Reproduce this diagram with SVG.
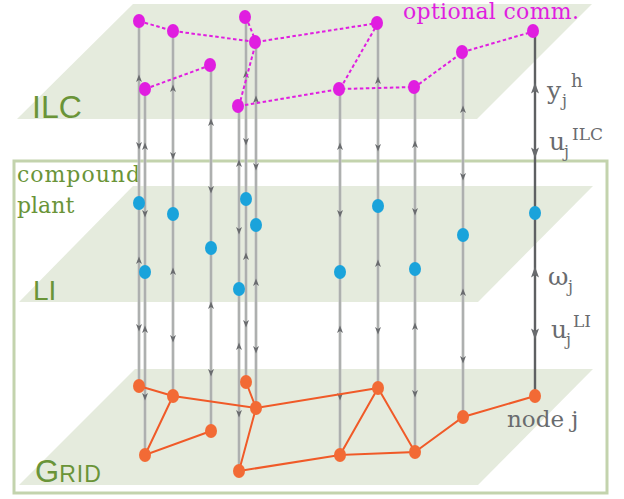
<svg xmlns="http://www.w3.org/2000/svg" xmlns:xlink="http://www.w3.org/1999/xlink" width="624" height="499" viewBox="0 0 624 499">
<style>
.plane{fill:#e5ebdd}
.frame{fill:none;stroke:#c3d3ad;stroke-width:3}
.lbl{fill:#6a9438;font-family:"Liberation Sans",Arial,sans-serif}
.ser{font-family:"DejaVu Serif","Liberation Serif",serif}
.gry{fill:#696b6e}
.vl{fill:none;stroke:#c8cac8;stroke-width:3}
.vd{fill:none;stroke:#939596;stroke-width:1}
.vL{fill:none;stroke:#5e6062;stroke-width:2.4}
.ah{fill:#696b6e}
.mg{fill:none;stroke:#e01ee0;stroke-width:2;stroke-dasharray:3.5 2.5}
.og{fill:none;stroke:#f05a28;stroke-width:2}
.ni{fill:#e01ee0}
.nl{fill:#1aa3db}
.ng{fill:#f26a35}
</style>
<defs>
<path id="up" d="M0,-4.5 L3,3 L0,1 L-3,3 Z"/>
<path id="dn" d="M0,4.5 L3,-3 L0,-1 L-3,-3 Z"/>
<path id="upB" d="M0,-6.5 L4,4.5 L0,2 L-4,4.5 Z"/>
<path id="dnB" d="M0,6.5 L4,-4.5 L0,-2 L-4,-4.5 Z"/>
</defs>

<!-- planes -->
<polygon class="plane" points="133,4 592,4 477,119 17,119"/>
<polygon class="plane" points="133,186 593,186 478,302 19,302"/>
<polygon class="plane" points="135,369 593,369 478,485 19,485"/>
<rect class="frame" x="14" y="161" width="593" height="332"/>

<!-- plane labels -->
<text class="lbl" x="32" y="118" font-size="32">ILC</text>
<text class="lbl" x="33" y="300" font-size="28">LI</text>
<text class="lbl" x="35" y="482" font-size="31">G<tspan font-size="23" letter-spacing="1">RID</tspan></text>
<text class="lbl ser" x="17" y="182" font-size="22" textLength="123" lengthAdjust="spacing">compound</text>
<text class="lbl ser" x="17" y="213" font-size="22">plant</text>
<text class="ser" x="403" y="19" font-size="22" fill="#e01ee0" textLength="176" lengthAdjust="spacing">optional comm.</text>

<g id="connectors">
<path class="vl" d="M139,21V386 M145,89V455 M173,31V396 M211,65V431 M239,106V471 M246,17V382 M256,42V408 M340,89V455 M378,23V388 M415,87V452 M463,52V417"/>
<path class="vd" d="M139,21V386 M145,89V455 M173,31V396 M211,65V431 M239,106V471 M246,17V382 M256,42V408 M340,89V455 M378,23V388 M415,87V452 M463,52V417"/>
<path class="vL" d="M535,31V396"/>
<g class="ah">
<use href="#up" x="139" y="79"/><use href="#dn" x="139" y="145"/><use href="#up" x="139" y="261"/><use href="#dn" x="139" y="327"/>
<use href="#up" x="145" y="147"/><use href="#dn" x="145" y="213"/><use href="#up" x="145" y="330"/><use href="#dn" x="145" y="396"/>
<use href="#up" x="173" y="89"/><use href="#dn" x="173" y="155"/><use href="#up" x="173" y="272"/><use href="#dn" x="173" y="338"/>
<use href="#up" x="211" y="123"/><use href="#dn" x="211" y="189"/><use href="#up" x="211" y="306"/><use href="#dn" x="211" y="372"/>
<use href="#up" x="239" y="164"/><use href="#dn" x="239" y="230"/><use href="#up" x="239" y="347"/><use href="#dn" x="239" y="413"/>
<use href="#up" x="246" y="75"/><use href="#dn" x="246" y="141"/><use href="#up" x="246" y="257"/><use href="#dn" x="246" y="323"/>
<use href="#up" x="256" y="100"/><use href="#dn" x="256" y="166"/><use href="#up" x="256" y="283"/><use href="#dn" x="256" y="349"/>
<use href="#up" x="340" y="147"/><use href="#dn" x="340" y="213"/><use href="#up" x="340" y="330"/><use href="#dn" x="340" y="396"/>
<use href="#up" x="378" y="81"/><use href="#dn" x="378" y="147"/><use href="#up" x="378" y="264"/><use href="#dn" x="378" y="330"/>
<use href="#up" x="415" y="145"/><use href="#dn" x="415" y="211"/><use href="#up" x="415" y="327"/><use href="#dn" x="415" y="393"/>
<use href="#up" x="463" y="110"/><use href="#dn" x="463" y="176"/><use href="#up" x="463" y="293"/><use href="#dn" x="463" y="359"/>
<use href="#upB" x="535" y="89"/><use href="#dnB" x="535" y="152"/><use href="#upB" x="535" y="273"/><use href="#dnB" x="535" y="333"/>
</g>
<path class="mg" d="M139,21L173,31L256,42L378,23 M246,17L256,42L239,106 M145,89L211,65 M239,106L340,89 M378,23L340,89L415,87L463,52L535,31"/>
<path class="og" d="M139,386L173,396L256,408L378,388 M246,382L256,408L239,471L340,455 M173,396L145,455L211,431 M378,388L340,455L415,452L378,388 M415,452L463,417L535,396"/>
</g>

<!-- ILC nodes -->
<g id="ilc-1"><ellipse class="ni" cx="139" cy="21" rx="6" ry="7"/></g>
<g id="ilc-2"><ellipse class="ni" cx="145" cy="89" rx="6" ry="7"/></g>
<g id="ilc-3"><ellipse class="ni" cx="173" cy="31" rx="6" ry="7"/></g>
<g id="ilc-4"><ellipse class="ni" cx="210" cy="65" rx="6" ry="7"/></g>
<g id="ilc-5"><ellipse class="ni" cx="238" cy="106" rx="6" ry="7"/></g>
<g id="ilc-6"><ellipse class="ni" cx="245" cy="17" rx="6" ry="7"/></g>
<g id="ilc-7"><ellipse class="ni" cx="255" cy="42" rx="6" ry="7"/></g>
<g id="ilc-8"><ellipse class="ni" cx="339" cy="89" rx="6" ry="7"/></g>
<g id="ilc-9"><ellipse class="ni" cx="377" cy="23" rx="6" ry="7"/></g>
<g id="ilc-10"><ellipse class="ni" cx="414" cy="87" rx="6" ry="7"/></g>
<g id="ilc-11"><ellipse class="ni" cx="462" cy="52" rx="6" ry="7"/></g>
<g id="ilc-12"><ellipse class="ni" cx="533" cy="31" rx="6" ry="7"/></g>

<!-- LI nodes -->
<g id="li-1"><ellipse class="nl" cx="139" cy="203" rx="6" ry="7"/></g>
<g id="li-2"><ellipse class="nl" cx="145" cy="272" rx="6" ry="7"/></g>
<g id="li-3"><ellipse class="nl" cx="173" cy="214" rx="6" ry="7"/></g>
<g id="li-4"><ellipse class="nl" cx="211" cy="248" rx="6" ry="7"/></g>
<g id="li-5"><ellipse class="nl" cx="239" cy="289" rx="6" ry="7"/></g>
<g id="li-6"><ellipse class="nl" cx="246" cy="199" rx="6" ry="7"/></g>
<g id="li-7"><ellipse class="nl" cx="256" cy="225" rx="6" ry="7"/></g>
<g id="li-8"><ellipse class="nl" cx="340" cy="272" rx="6" ry="7"/></g>
<g id="li-9"><ellipse class="nl" cx="378" cy="206" rx="6" ry="7"/></g>
<g id="li-10"><ellipse class="nl" cx="415" cy="269" rx="6" ry="7"/></g>
<g id="li-11"><ellipse class="nl" cx="463" cy="235" rx="6" ry="7"/></g>
<g id="li-12"><ellipse class="nl" cx="535" cy="213" rx="6" ry="7"/></g>

<!-- Grid nodes -->
<g id="grid-1"><ellipse class="ng" cx="139" cy="386" rx="6" ry="7"/></g>
<g id="grid-2"><ellipse class="ng" cx="145" cy="455" rx="6" ry="7"/></g>
<g id="grid-3"><ellipse class="ng" cx="173" cy="396" rx="6" ry="7"/></g>
<g id="grid-4"><ellipse class="ng" cx="211" cy="431" rx="6" ry="7"/></g>
<g id="grid-5"><ellipse class="ng" cx="239" cy="471" rx="6" ry="7"/></g>
<g id="grid-6"><ellipse class="ng" cx="246" cy="382" rx="6" ry="7"/></g>
<g id="grid-7"><ellipse class="ng" cx="256" cy="408" rx="6" ry="7"/></g>
<g id="grid-8"><ellipse class="ng" cx="340" cy="455" rx="6" ry="7"/></g>
<g id="grid-9"><ellipse class="ng" cx="378" cy="388" rx="6" ry="7"/></g>
<g id="grid-10"><ellipse class="ng" cx="415" cy="452" rx="6" ry="7"/></g>
<g id="grid-11"><ellipse class="ng" cx="463" cy="417" rx="6" ry="7"/></g>
<g id="grid-12"><ellipse class="ng" cx="535" cy="396" rx="6" ry="7"/></g>

<!-- signal labels -->
<g class="ser gry">
<text x="547" y="99" font-size="25">y</text><text x="562" y="106" font-size="16">j</text><text x="571" y="87" font-size="18">h</text>
<text x="549" y="150" font-size="25">u</text><text x="564" y="157" font-size="16">j</text><text x="572" y="140" font-size="17">ILC</text>
<text x="548" y="285" font-size="25">ω</text><text x="568" y="292" font-size="16">j</text>
<text x="551" y="338" font-size="25">u</text><text x="566" y="345" font-size="16">j</text><text x="573" y="327" font-size="17">LI</text>
<text x="507" y="427" font-size="23">node j</text>
</g>
</svg>
